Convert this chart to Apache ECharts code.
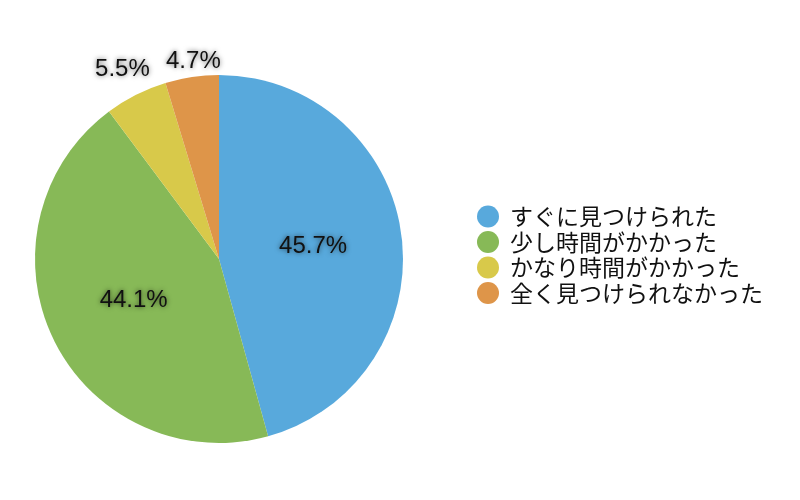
<!DOCTYPE html><html><head><meta charset="utf-8"><script src="https://cdn.jsdelivr.net/npm/echarts@6/dist/echarts.min.js"></script></head><body style="margin:0;background:#fff"><div id="c" style="width:800px;height:500px"></div><script>
const categories=['すぐに見つけられた','少し時間がかかった','かなり時間がかかった','全く見つけられなかった'];
const values=[45.7,44.1,5.5,4.7];
const colors=['#58a9dc','#87b957','#d8c94a','#de9549'];
const font='"Noto Sans CJK JP", sans-serif';
const data=categories.map((n,i)=>{const d={name:n,value:values[i],itemStyle:{color:colors[i]}};
 if(values[i]<10){d.label={position:'outside',distance:14};d.labelLine={show:false};}return d;});
const ch=echarts.init(document.getElementById('c'));
ch.setOption({animation:false,
legend:{orient:'vertical',left:472,top:200,itemWidth:22,itemHeight:22,itemGap:2.5,icon:'circle',
 textStyle:{fontSize:23,color:'#111',fontFamily:font,padding:[0,0,0,6]},data:categories},
series:[{type:'pie',center:[219,259],radius:[0,184],startAngle:90,clockwise:true,
 label:{position:'inside',formatter:p=>p.value.toFixed(1)+'%',fontSize:24,color:'#111',fontFamily:'Liberation Sans, sans-serif',
  textShadowColor:'rgba(0,0,0,0.6)',textShadowBlur:5},
 labelLayout:p=>p.dataIndex===2?{dx:64,dy:-19}:(p.dataIndex===3?{dx:66,dy:-1}:{}),
 labelLine:{show:false},itemStyle:{borderWidth:0},emphasis:{disabled:true},data:data}]});
</script></body></html>
